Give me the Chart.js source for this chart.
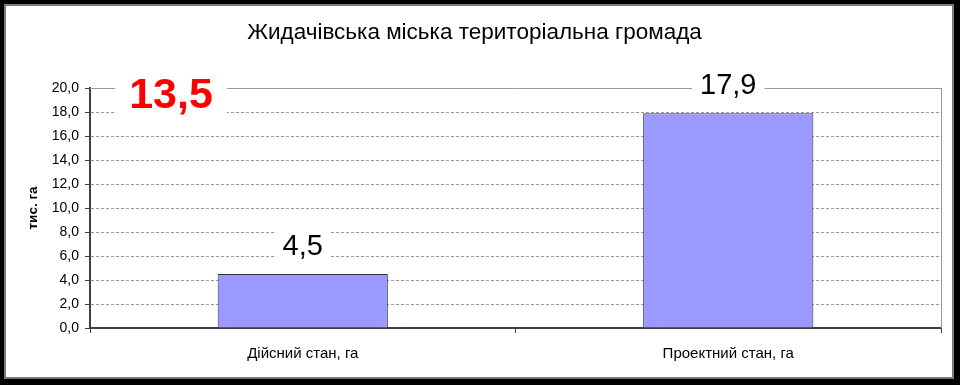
<!DOCTYPE html>
<html>
<head>
<meta charset="utf-8">
<script src="https://cdn.jsdelivr.net/npm/chart.js@4"></script>
<style>
  html, body { margin: 0; padding: 0; background: #000; }
  canvas { display: block; }
</style>
</head>
<body>
<canvas id="chart" width="960" height="385"></canvas>
<script>
const categories = ['Дійсний стан, га', 'Проектний стан, га']
const areaValues = [4.5, 17.9]
const differenceLabel = '13,5'
const chartTitle = 'Жидачівська міська територіальна громада'
const axisTitle = 'тис. га'
const yMin = 0
const yMax = 20
const yStep = 2

const FONT = '"Liberation Sans", Arial, sans-serif'

const fmt = v => v.toFixed(1).replace('.', ',')

// black frame with white panel
const framePlugin = {
  id: 'frame',
  beforeDraw (chart) {
    const ctx = chart.ctx
    ctx.save()
    ctx.fillStyle = '#000'
    ctx.fillRect(0, 0, chart.width, chart.height)
    ctx.fillStyle = '#fff'
    ctx.fillRect(5, 5, 948, 373)
    ctx.strokeStyle = '#7a7a7a'
    ctx.lineWidth = 2
    ctx.strokeRect(5, 5, 948, 373)
    ctx.restore()
  },
  beforeDatasetsDraw (chart) {
    const { ctx, chartArea } = chart
    ctx.save()
    ctx.strokeStyle = '#9a9a9a'
    ctx.lineWidth = 1
    ctx.beginPath()
    ctx.moveTo(chartArea.left, chartArea.top + 0.5)
    ctx.lineTo(chartArea.right, chartArea.top + 0.5)
    ctx.moveTo(chartArea.right + 0.5, chartArea.top)
    ctx.lineTo(chartArea.right + 0.5, chartArea.bottom)
    ctx.stroke()
    ctx.restore()
  }
}

function boxedText (ctx, text, x, y, font, color, padX, boxH) {
  ctx.font = font
  const w = ctx.measureText(text).width
  ctx.fillStyle = '#fff'
  ctx.fillRect(x - w / 2 - padX, y - boxH / 2, w + padX * 2, boxH)
  ctx.fillStyle = color
  ctx.textAlign = 'center'
  ctx.textBaseline = 'middle'
  ctx.fillText(text, x, y)
}

const labelPlugin = {
  id: 'valueLabels',
  afterDatasetsDraw (chart) {
    const { ctx, chartArea, scales } = chart
    ctx.save()
    const meta = chart.getDatasetMeta(0)
    meta.data.forEach((bar, i) => {
      boxedText(ctx, fmt(areaValues[i]), bar.x, bar.y - 27, '29px ' + FONT, '#000', 8, 34)
    })
    boxedText(ctx, differenceLabel, chartArea.left + 81, scales.y.getPixelForValue(19.35),
      'bold 43px ' + FONT, '#ff0000', 14, 48)
    ctx.restore()
  }
}

const config = {
  type: 'bar',
  data: {
    labels: categories,
    datasets: [
      {
        data: areaValues,
        backgroundColor: '#9999ff',
        borderColor: '#333333',
        borderWidth: 1,
        categoryPercentage: 1,
        barPercentage: 0.4
      }
    ]
  },
  options: {
    responsive: false,
    animation: false,
    layout: {
      padding: { left: 8, right: 19, top: 0, bottom: 0 }
    },
    scales: {
      x: {
        afterFit: s => { s.height = 57 },
        grid: {
          drawOnChartArea: false,
          drawTicks: true,
          tickLength: 5,
          color: '#404040',
          lineWidth: 1
        },
        border: { color: '#404040', width: 2 },
        ticks: {
          padding: 12,
          color: '#000',
          font: { family: FONT, size: 15 }
        }
      },
      y: {
        min: yMin,
        max: yMax,
        afterFit: s => { s.width = 82 },
        ticks: {
          stepSize: yStep,
          padding: 6,
          color: '#000',
          font: { family: FONT, size: 14 },
          callback: v => fmt(v)
        },
        grid: {
          color: '#9a9a9a',
          tickColor: '#404040',
          tickLength: 5,
          lineWidth: 1
        },
        border: { color: '#404040', width: 2, dash: [3, 2] },
        title: {
          display: true,
          text: axisTitle,
          color: '#000',
          padding: { top: 17, bottom: 0 },
          font: { family: FONT, size: 13.5, weight: 'bold' }
        }
      }
    },
    plugins: {
      legend: { display: false },
      tooltip: { enabled: false },
      title: {
        display: true,
        text: chartTitle,
        color: '#000',
        padding: { top: 19, bottom: 42 },
        font: { family: FONT, size: 22.5, weight: 'normal' }
      }
    }
  },
  plugins: [framePlugin, labelPlugin]
}

new Chart(document.getElementById('chart').getContext('2d'), config)
</script>
</body>
</html>
